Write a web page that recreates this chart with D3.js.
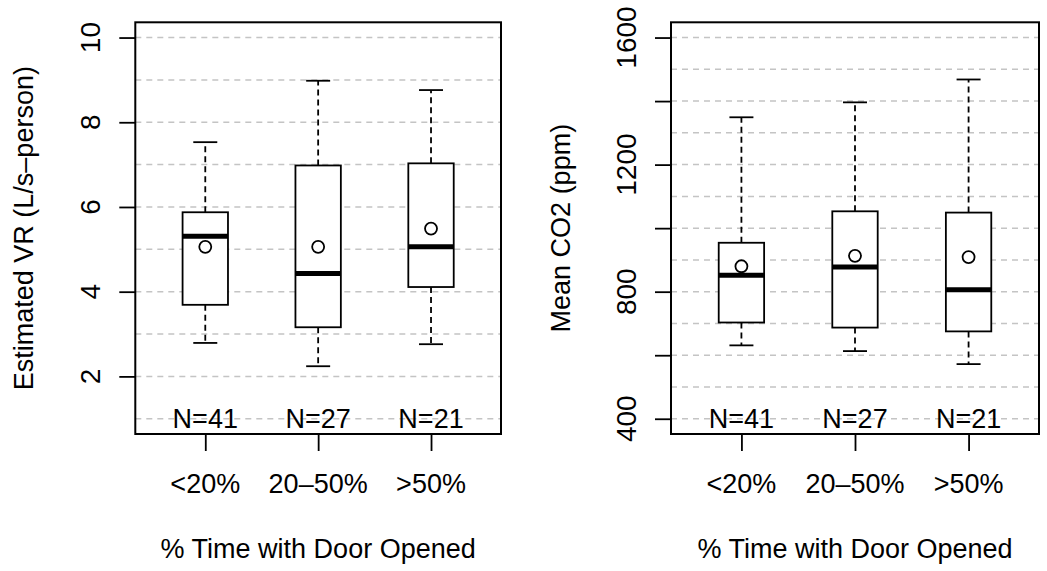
<!DOCTYPE html>
<html>
<head>
<meta charset="utf-8">
<script src="https://d3js.org/d3.v7.min.js"></script>
<style>
  html, body { margin: 0; padding: 0; background: #fff; }
  svg { display: block; font-family: "Liberation Sans", Arial, Helvetica, sans-serif; }
</style>
</head>
<body>
<script>
// categories and group sizes
const categories = ["<20%", "20\u201350%", ">50%"];
const counts = [41, 27, 21];

// Estimated VR (L/s-person) box stats per category
const vrLow = [2.79, 2.24, 2.76];
const vrQ1 = [3.69, 3.16, 4.11];
const vrMedian = [5.31, 4.43, 5.06];
const vrQ3 = [5.875, 6.98, 7.03];
const vrHigh = [7.53, 8.98, 8.76];
const vrMean = [5.06, 5.06, 5.49];

// Mean CO2 (ppm) box stats per category
const co2Low = [631, 613, 572];
const co2Q1 = [703, 687, 675];
const co2Median = [852, 878, 806];
const co2Q3 = [954, 1053, 1049];
const co2High = [1349, 1396, 1468];
const co2Mean = [880, 913, 909];

// axis settings
const vrTicks = [2, 4, 6, 8, 10];
const vrGrid = d3.range(1, 11, 1);
const co2Ticks = [400, 600, 800, 1000, 1200, 1400, 1600];
const co2Labels = [400, 800, 1200, 1600];
const co2Grid = d3.range(400, 1601, 100);

const W = 1047, H = 571;
const svg = d3.select("body").append("svg").attr("width", W).attr("height", H);

function drawPanel(cfg) {
  const top = 22.3, bottom = 434;
  const g = svg.append("g");

  const span = cfg.ylim[1] - cfg.ylim[0];
  const y = d3.scaleLinear()
    .domain([cfg.ylim[0] - 0.04 * span, cfg.ylim[1] + 0.04 * span])
    .range([bottom, top]);
  const x = d3.scaleLinear().domain([0.38, 3.62]).range([cfg.left, cfg.right]);
  const halfBox = 22.7, halfCap = 12;

  // dashed grey grid
  g.selectAll("line.grid").data(cfg.grid).join("line")
    .attr("x1", cfg.left).attr("x2", cfg.right)
    .attr("y1", d => y(d)).attr("y2", d => y(d))
    .attr("stroke", "#c4c4c4").attr("stroke-width", 1.5)
    .attr("stroke-dasharray", "6,5");

  const idx = d3.range(categories.length);
  const boxes = g.selectAll("g.box").data(idx).join("g").attr("class", "box");

  // whiskers
  boxes.append("line")
    .attr("x1", i => x(i + 1)).attr("x2", i => x(i + 1))
    .attr("y1", i => y(cfg.q3[i])).attr("y2", i => y(cfg.high[i]))
    .attr("stroke", "#000").attr("stroke-width", 1.8).attr("stroke-dasharray", "6,4");
  boxes.append("line")
    .attr("x1", i => x(i + 1)).attr("x2", i => x(i + 1))
    .attr("y1", i => y(cfg.q1[i])).attr("y2", i => y(cfg.low[i]))
    .attr("stroke", "#000").attr("stroke-width", 1.8).attr("stroke-dasharray", "6,4");
  // staples
  [cfg.high, cfg.low].forEach(arr => {
    boxes.append("line")
      .attr("x1", i => x(i + 1) - halfCap).attr("x2", i => x(i + 1) + halfCap)
      .attr("y1", i => y(arr[i])).attr("y2", i => y(arr[i]))
      .attr("stroke", "#000").attr("stroke-width", 1.8);
  });
  // box
  boxes.append("rect")
    .attr("x", i => x(i + 1) - halfBox).attr("width", halfBox * 2)
    .attr("y", i => y(cfg.q3[i])).attr("height", i => y(cfg.q1[i]) - y(cfg.q3[i]))
    .attr("fill", "#fff").attr("stroke", "#000").attr("stroke-width", 1.8);
  // median
  boxes.append("line")
    .attr("x1", i => x(i + 1) - halfBox).attr("x2", i => x(i + 1) + halfBox)
    .attr("y1", i => y(cfg.median[i])).attr("y2", i => y(cfg.median[i]))
    .attr("stroke", "#000").attr("stroke-width", 5);
  // mean
  boxes.append("circle")
    .attr("cx", i => x(i + 1)).attr("cy", i => y(cfg.mean[i])).attr("r", 6)
    .attr("fill", "none").attr("stroke", "#000").attr("stroke-width", 1.8);

  // N labels
  g.selectAll("text.n").data(idx).join("text")
    .attr("x", i => x(i + 1)).attr("y", y(cfg.nAt)).attr("dy", "0.36em")
    .attr("text-anchor", "middle").attr("font-size", 27)
    .text(i => "N=" + counts[i]);

  // plot frame
  g.append("rect")
    .attr("x", cfg.left).attr("y", top)
    .attr("width", cfg.right - cfg.left).attr("height", bottom - top)
    .attr("fill", "none").attr("stroke", "#000").attr("stroke-width", 2);

  // y axis
  const yAxis = g.append("g").attr("transform", `translate(${cfg.left},0)`)
    .call(d3.axisLeft(y).tickValues(cfg.ticks).tickSize(16).tickFormat(""));
  yAxis.select(".domain").remove();
  yAxis.selectAll(".tick line").attr("stroke-width", 1.8);
  g.selectAll("text.ylab").data(cfg.labels).join("text")
    .attr("transform", d => `translate(${cfg.left - 35},${y(d)}) rotate(-90)`)
    .attr("text-anchor", "middle").attr("font-size", 28)
    .text(d => d);

  // x axis
  const xAxis = g.append("g").attr("transform", `translate(0,${bottom})`)
    .call(d3.axisBottom(x).tickValues([1, 2, 3]).tickSize(17).tickFormat(""));
  xAxis.select(".domain").remove();
  xAxis.selectAll(".tick line").attr("stroke-width", 1.8);
  g.selectAll("text.xlab").data(idx).join("text")
    .attr("x", i => x(i + 1)).attr("y", 493)
    .attr("text-anchor", "middle").attr("font-size", 27)
    .text(i => categories[i]);

  // titles
  g.append("text")
    .attr("x", (cfg.left + cfg.right) / 2).attr("y", 558)
    .attr("text-anchor", "middle").attr("font-size", 27)
    .text("% Time with Door Opened");
  g.append("text")
    .attr("transform", `translate(${cfg.titleX},${(top + bottom) / 2}) rotate(-90)`)
    .attr("text-anchor", "middle").attr("font-size", 27)
    .text(cfg.title);
}

drawPanel({
  left: 135.3, right: 501, ylim: [1, 10], nAt: 1,
  grid: vrGrid, ticks: vrTicks, labels: vrTicks,
  low: vrLow, q1: vrQ1, median: vrMedian, q3: vrQ3, high: vrHigh, mean: vrMean,
  title: "Estimated VR (L/s\u2013person)", titleX: 33
});

drawPanel({
  left: 671, right: 1039, ylim: [400, 1600], nAt: 400,
  grid: co2Grid, ticks: co2Ticks, labels: co2Labels,
  low: co2Low, q1: co2Q1, median: co2Median, q3: co2Q3, high: co2High, mean: co2Mean,
  title: "Mean CO2 (ppm)", titleX: 570
});
</script>
</body>
</html>
